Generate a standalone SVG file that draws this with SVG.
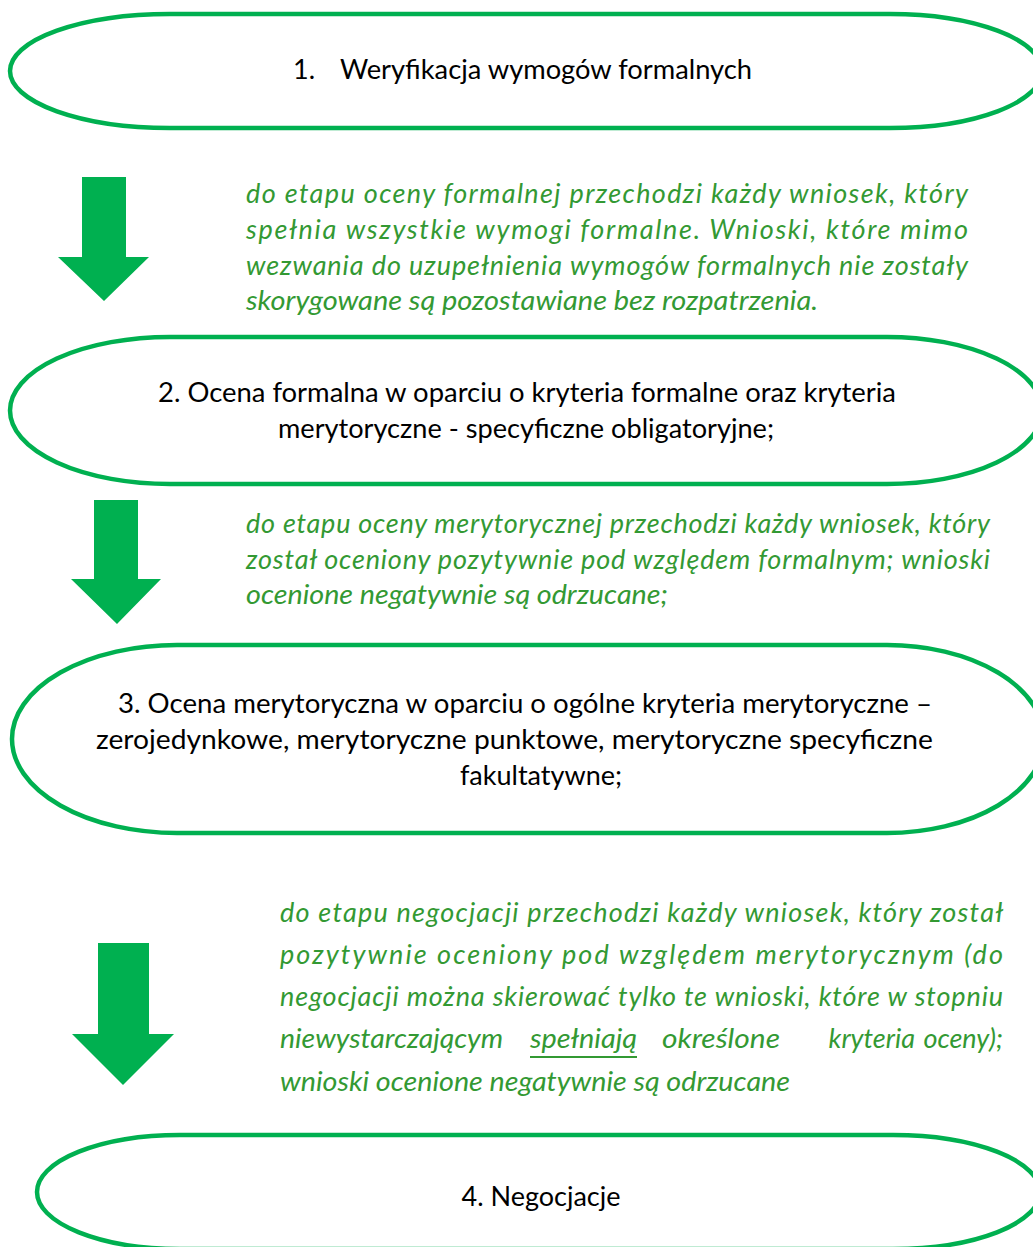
<svg xmlns="http://www.w3.org/2000/svg" width="1033" height="1247" viewBox="0 0 1033 1247">
<style>
.node{fill:#ffffff;stroke:#00b050;stroke-width:4.5}
.arrow{fill:#00b050}
.t{font-family:Lato,"Open Sans","Liberation Sans",sans-serif;font-size:27px;fill:#000000}
.g{font-family:Lato,"Open Sans","Liberation Sans",sans-serif;font-size:27px;font-style:italic;fill:#339933}
</style>
<rect width="1033" height="1247" fill="#ffffff"/>
<g id="node1">
<path class="node" d="M170,14 H890 A152,57 0 0 1 890,128 H170 A160,57 0 0 1 170,14 Z"/>
<text class="t" x="293" y="79">1.</text>
<text class="t" x="340" y="79" textLength="412" lengthAdjust="spacingAndGlyphs">Weryfikacja wymogów formalnych</text>
</g>
<g id="node2">
<path class="node" d="M170,337 H887 A155,73.5 0 0 1 887,484 H170 A160,73.5 0 0 1 170,337 Z"/>
<text class="t" x="158" y="402" textLength="738" lengthAdjust="spacingAndGlyphs">2. Ocena formalna w oparciu o kryteria formalne oraz kryteria</text>
<text class="t" x="278" y="438" textLength="496" lengthAdjust="spacingAndGlyphs">merytoryczne - specyficzne obligatoryjne;</text>
</g>
<g id="node3">
<path class="node" d="M177,645 H887 A157,94 0 0 1 887,833 H177 A165,94 0 0 1 177,645 Z"/>
<text class="t" x="118" y="713" textLength="814" lengthAdjust="spacingAndGlyphs">3. Ocena merytoryczna w oparciu o ogólne kryteria merytoryczne –</text>
<text class="t" x="96" y="749" textLength="837" lengthAdjust="spacingAndGlyphs">zerojedynkowe, merytoryczne punktowe, merytoryczne specyficzne</text>
<text class="t" x="541" y="785" text-anchor="middle">fakultatywne;</text>
</g>
<g id="node4">
<path class="node" d="M180,1135 H893 A147,57 0 0 1 893,1249 H180 A143,57 0 0 1 180,1135 Z"/>
<text class="t" x="541" y="1206" text-anchor="middle">4. Negocjacje</text>
</g>
<g id="connectors">
<polygon class="arrow" points="82,177 126,177 126,257 149,257 104,301 58,257 82,257"/>
<polygon class="arrow" points="94,500 138,500 138,579 161,579 117,624 71,579 94,579"/>
<polygon class="arrow" points="98,943 149,943 149,1034 174,1034 123,1085 72,1034 98,1034"/>
</g>
<g id="label1">
<text class="g" x="246" y="203" textLength="722" lengthAdjust="spacing">do etapu oceny formalnej przechodzi każdy wniosek, który</text>
<text class="g" x="246" y="239" textLength="722" lengthAdjust="spacing">spełnia wszystkie wymogi formalne. Wnioski, które mimo</text>
<text class="g" x="246" y="275" textLength="722" lengthAdjust="spacing">wezwania do uzupełnienia wymogów formalnych nie zostały</text>
<text class="g" x="246" y="310" textLength="572" lengthAdjust="spacingAndGlyphs">skorygowane są pozostawiane bez rozpatrzenia.</text>
</g>
<g id="label2">
<text class="g" x="246" y="533" textLength="744" lengthAdjust="spacing">do etapu oceny merytorycznej przechodzi każdy wniosek, który</text>
<text class="g" x="246" y="569" textLength="744" lengthAdjust="spacing">został oceniony pozytywnie pod względem formalnym; wnioski</text>
<text class="g" x="246" y="604" textLength="422" lengthAdjust="spacingAndGlyphs">ocenione negatywnie są odrzucane;</text>
</g>
<g id="label3">
<text class="g" x="280" y="922" textLength="723" lengthAdjust="spacing">do etapu negocjacji przechodzi każdy wniosek, który został</text>
<text class="g" x="280" y="964" textLength="723" lengthAdjust="spacing">pozytywnie oceniony pod względem merytorycznym (do</text>
<text class="g" x="280" y="1006" textLength="723" lengthAdjust="spacing">negocjacji można skierować tylko te wnioski, które w stopniu</text>
<text class="g" x="280" y="1048" textLength="223" lengthAdjust="spacingAndGlyphs">niewystarczającym</text>
<text class="g" x="530" y="1048" textLength="107" lengthAdjust="spacingAndGlyphs">spełniają</text>
<line x1="530" y1="1057" x2="637" y2="1057" stroke="#339933" stroke-width="2"/>
<text class="g" x="662" y="1048" textLength="118" lengthAdjust="spacingAndGlyphs">określone</text>
<text class="g" x="915" y="1048" text-anchor="end">kryteria</text>
<text class="g" x="1003" y="1048" text-anchor="end">oceny);</text>
<text class="g" x="280" y="1091" textLength="510" lengthAdjust="spacingAndGlyphs">wnioski ocenione negatywnie są odrzucane</text>
</g>
</svg>
